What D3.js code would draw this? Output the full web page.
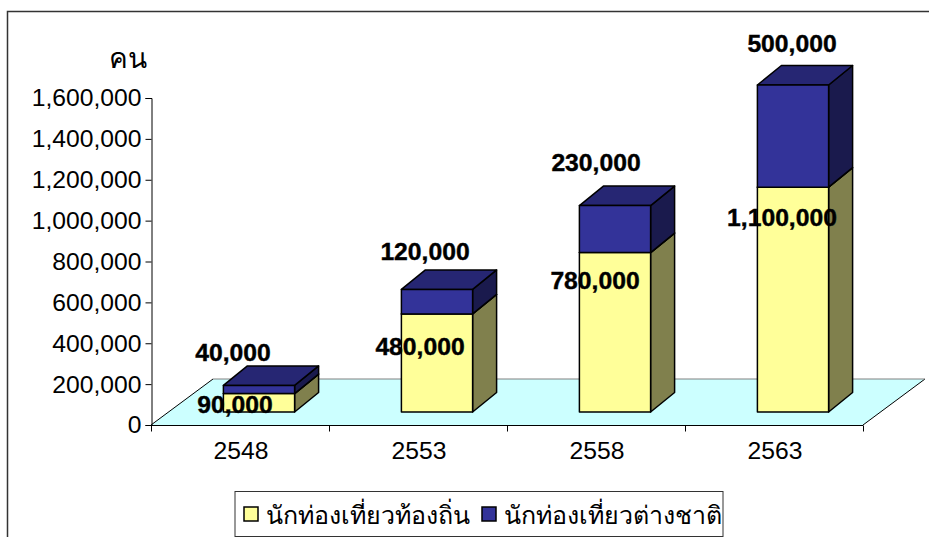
<!DOCTYPE html>
<html><head><meta charset="utf-8">
<style>html,body{margin:0;padding:0;background:#fff}svg{display:block}text{font-family:"Liberation Sans",Arial,sans-serif;fill:#000}</style>
<script src="https://cdn.jsdelivr.net/npm/d3@7"></script></head><body>
<svg id="c" width="929" height="537"></svg>
<script>
const years = ["2548","2553","2558","2563"];
const localVisitors = [90000,480000,780000,1100000];
const foreignVisitors = [40000,120000,230000,500000];
const seriesNames = ["นักท่องเที่ยวท้องถิ่น","นักท่องเที่ยวต่างชาติ"];
const yTicks = [0,200000,400000,600000,800000,1000000,1200000,1400000,1600000];

const colours = [
  {front:"#FFFF99",side:"#80804D",top:"#BFBF73"},
  {front:"#333399",side:"#1A1A4D",top:"#262673"}
];
// hand-placed label nudges, as in the original chart: [dx from bar centre, baseline dy from top of segment]
const localLabelNudge = [[-24,19],[-17,41],[-20,36],[-11,39]];
const foreignLabelNudge = [[-26,-24],[-12,-29],[-19,-35],[-1,-33]];

const svg = d3.select("#c");
const fs = 24.7;
const y = d3.scaleLinear().domain([0,1600000]).range([425,98]);
const x = d3.scaleBand().domain(years).range([151,863]).paddingInner(0.6).paddingOuter(0.3);
const floorD = {x:62,y:-46}, barD = {x:24,y:-19.5}, barO = {x:19,y:-13};

// outer frame
svg.append("path").attr("d","M7.5,537V11.5H929").attr("fill","none").attr("stroke","#333").attr("stroke-width",1.5);

// floor
const x0=x.range()[0], x1=x.range()[1], yb=y(0);
svg.append("path").attr("d",`M${x0},${yb}L${x1},${yb}L${x1+floorD.x},${yb+floorD.y}L${x0+floorD.x},${yb+floorD.y}Z`).attr("fill","#CCFFFF").attr("stroke","none");
svg.append("path").attr("d",`M${x0},${yb}L${x0+floorD.x},${yb+floorD.y}`).attr("stroke","#000").attr("fill","none");
svg.append("path").attr("d",`M${x1},${yb}L${x1+floorD.x},${yb+floorD.y}`).attr("stroke","#000").attr("fill","none");
svg.append("path").attr("d",`M${x0+floorD.x},${yb+floorD.y}H${x1+floorD.x}`).attr("stroke","#808080").attr("fill","none");

// axes
const gy = svg.append("g").attr("transform",`translate(${x0+0.5},0)`).call(d3.axisLeft(y).tickValues(yTicks).tickFormat(d3.format(",")).tickSizeOuter(0).tickSize(6).tickPadding(4));
gy.selectAll("text").attr("font-size",fs).style("font-family",'"Liberation Sans",Arial,sans-serif');
gy.selectAll("path,line").attr("stroke","#000");
const gx = svg.append("g").attr("transform",`translate(1,${yb+0.5})`).call(d3.axisBottom(x).tickSize(0).tickPadding(16));
gx.select("path").attr("stroke","#000").attr("d",`M${x0-1},0H${x1-1}`);
gx.selectAll("line").remove();
gx.selectAll("text").attr("font-size",fs).style("font-family",'"Liberation Sans",Arial,sans-serif');
const step = x.step();
gx.selectAll("line.t").data(d3.range(years.length+1)).join("line").attr("class","t")
  .attr("x1",i=>x0-1+i*step+0.5).attr("x2",i=>x0-1+i*step+0.5).attr("y1",0).attr("y2",6).attr("stroke","#000");

svg.append("text").attr("x",109).attr("y",68).attr("font-size",28).text("คน");

// stacks
const rows = years.map((yr,i)=>({year:yr,local:localVisitors[i],foreign:foreignVisitors[i]}));
const stacked = d3.stack().keys(["local","foreign"])(rows);
const h0 = v => y(v)+barO.y;
stacked.forEach((s,si)=>{
  const c = colours[si];
  s.forEach((d,i)=>{
    const l=x(years[i])+barO.x, r=l+x.bandwidth(), b=h0(d[0]), t=h0(d[1]);
    const g=svg.append("g").attr("stroke","#000").attr("stroke-width",1.5).attr("stroke-linejoin","round");
    g.append("path").attr("d",`M${r},${b}L${r+barD.x},${b+barD.y}L${r+barD.x},${t+barD.y}L${r},${t}Z`).attr("fill",c.side);
    g.append("path").attr("d",`M${l},${t}L${l+barD.x},${t+barD.y}L${r+barD.x},${t+barD.y}L${r},${t}Z`).attr("fill",c.top);
    g.append("rect").attr("x",l).attr("y",t).attr("width",r-l).attr("height",b-t).attr("fill",c.front);
  });
});
// data labels
const fmt=d3.format(",");
stacked.forEach((s,si)=>{
  const nudge = si===0?localLabelNudge:foreignLabelNudge;
  s.forEach((d,i)=>{
    svg.append("text").attr("font-weight","bold").attr("font-size",fs).attr("text-anchor","middle")
      .attr("stroke","#000").attr("stroke-width",0.4)
      .attr("x",x(years[i])+x.bandwidth()/2+barO.x+nudge[i][0]).attr("y",h0(d[1])+nudge[i][1]).text(fmt(d[1]-d[0]));
  });
});

// legend
const lg = svg.append("g");
lg.append("rect").attr("x",235).attr("y",491.5).attr("width",488).attr("height",45).attr("fill","#fff").attr("stroke","#333").attr("stroke-width",1);
[[244,266],[482,504]].forEach((p,i)=>{
  lg.append("rect").attr("x",p[0]).attr("y",507).attr("width",14).attr("height",14).attr("fill",colours[i].front).attr("stroke","#000").attr("stroke-width",1.5);
  lg.append("text").attr("x",p[1]).attr("y",524).attr("font-size",25).text(seriesNames[i]);
});
</script></body></html>
